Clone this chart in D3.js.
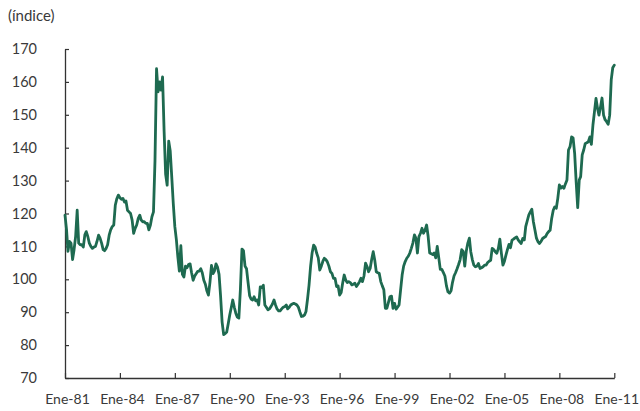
<!DOCTYPE html>
<html>
<head>
<meta charset="utf-8">
<script src="https://cdn.jsdelivr.net/npm/d3@7"></script>
<style>
  html, body { margin: 0; padding: 0; background: #fff; }
  svg { display: block; }
  text { font-family: Lato, "Open Sans", sans-serif; }
</style>
</head>
<body>
<svg id="chart" width="640" height="411"></svg>
<script>
// ---- Data (monthly index, starting January 1981) ----
const startMonth = "1981-01";
const values1981_1990 = [
  119.5,115,108.5,111.5,111,106,109,113,121,111,110.5,110.5,
  109.8,113.5,114.5,113,111,110,109.4,109.8,110,111.5,113.4,112.5,
  111,109,108.7,109.4,110.5,113.4,115,116,116.5,122.5,124.5,125.6,
  124.8,124.3,124.6,123.5,123.8,121,120.5,120,118,114,115.5,116.5,
  118.5,119.5,118,117.5,117.5,117,117,115,116.5,119,120.5,136,
  164,157,160,157.5,161.5,145,132,128.6,142,139,131,123,
  116,112,107,102.5,110.2,101.5,100.7,104,103.5,104.5,104.7,102,
  99.7,101,101.7,102.4,102.5,103.2,102,99.7,98.5,96.5,95.2,99,
  104.2,101.7,102.5,104.7,103.7,101.5,95,87,83.2,83.5,84,86.5,
  89.2,91.5,93.7,91.5,89.7,88.5,88.2,97,109.2,108.7,104,103.2
];
const values1991_2000 = [
  99,95,94,93.7,94.7,93.5,93.7,92.2,97.7,97.5,98.2,92.2,
  91.5,90.7,91,91.7,92.5,93.7,92.2,91,90.4,90.4,91,91.5,
  91.7,92.2,91,91.5,92.2,92.5,92.7,92.5,92.2,91.5,90,88.7,
  88.8,89.2,90.2,94,98.2,104,108,110.4,109.7,107.9,106.5,102.8,
  104,105.5,106.4,106,105.3,104,102.3,101.8,100.3,100.3,97.8,98,
  95.2,96,98.8,101.3,99.8,99,99.3,99,98.3,98.5,98.8,97.8,
  98.5,99.3,100.3,99.3,101,104.9,103.9,102.3,103.3,106,108.4,105.9,
  102.3,102,101.8,99.3,98,96.8,91.2,91.2,93,94.7,94.9,91.2,
  92.7,90.9,91.5,92.2,96.7,101.3,104,105.4,106.4,107,108,109.4,
  111,113.5,112.5,108,113,114,115.5,114,115,116.5,113,108
];
const values2001_2011 = [
  107.8,107.5,108,106.5,110,106.5,103,103,102,101,98,96.2,
  95.8,96.5,99,101,102,103.2,104.5,106,109,108.5,104,108.5,
  111,112.5,108.4,106,104.3,103.8,104,104.8,103.3,103.5,103.8,104.3,
  104.3,105.1,105.5,105.8,109.4,109,108.4,107.9,109.4,112.2,107.9,104.3,
  105.5,107.4,109,110.6,109.6,111.9,112.2,112.6,112.9,112,111.4,110.9,
  112.4,112,116,117.8,119.5,120.5,121.3,117.5,115,112.5,111.4,110.9,
  111.5,112.4,112.7,113,113.9,114.5,114.9,118.5,121,122,121.6,124.6,
  128.7,127.7,128.2,127.7,129,130.2,139.3,140.3,143.3,143,138.3,129.7,
  121.8,130.2,131.2,137.8,139.3,141.3,141.5,141.8,143.3,141,146.9,150.9,
  155,151.9,149.9,152.4,155.1,149.9,148.5,147.9,147.1,149.9,160.6,164.3,
  165.1
];
const tickYears = [1981,1984,1987,1990,1993,1996,1999,2002,2005,2008,2011];
const tickLabels = ["Ene-81","Ene-84","Ene-87","Ene-90","Ene-93","Ene-96","Ene-99","Ene-02","Ene-05","Ene-08","Ene-11"];
const yTicks = [70,80,90,100,110,120,130,140,150,160,170];
const unitLabel = "(índice)";

// ---- Build series ----
const parseMonth = d3.timeParse("%Y-%m");
const startDate = parseMonth(startMonth);
const allValues = values1981_1990.concat(values1991_2000, values2001_2011);
const series = allValues.map((v, i) => ({ date: d3.timeMonth.offset(startDate, i), value: v }));

// ---- Layout ----
const svg = d3.select("#chart");
const plotLeft = 65, plotRight = 614.3, plotTop = 49, plotBottom = 378;

const x = d3.scaleTime()
  .domain([new Date(1981, 0, 1), new Date(2011, 0, 1)])
  .range([plotLeft, plotRight]);
const y = d3.scaleLinear().domain([70, 170]).range([plotBottom, plotTop]);

const axisColor = "#333";
const textColor = "#3a3a3a";

// Y axis
const yAxis = svg.append("g")
  .attr("transform", `translate(${plotLeft},0)`)
  .call(d3.axisLeft(y).tickValues(yTicks).tickSizeInner(-4).tickSizeOuter(0).tickPadding(28));
yAxis.select(".domain").attr("stroke", axisColor).attr("stroke-width", 1.3);
yAxis.selectAll(".tick line").attr("stroke", axisColor).attr("stroke-width", 1.2);
yAxis.selectAll(".tick text").attr("fill", textColor).style("font-size", "14.5px").attr("font-family", null);

// X axis
const xAxis = svg.append("g")
  .attr("transform", `translate(0,${plotBottom})`)
  .call(d3.axisBottom(x)
    .tickValues(tickYears.map(yr => new Date(yr, 0, 1)))
    .tickFormat((d, i) => tickLabels[i])
    .tickSizeInner(-5).tickSizeOuter(0).tickPadding(16));
xAxis.select(".domain").attr("stroke", axisColor).attr("stroke-width", 1.3);
xAxis.selectAll(".tick line").attr("stroke", axisColor).attr("stroke-width", 1.2);
xAxis.selectAll(".tick text").attr("fill", textColor).attr("dx", 2).style("font-size", "14px").attr("font-family", null);

// Unit label
svg.append("text")
  .attr("x", 8).attr("y", 21)
  .attr("fill", textColor)
  .style("font-size", "15px")
  .text(unitLabel);

// Line
const line = d3.line()
  .x(d => x(d.date))
  .y(d => y(d.value));
svg.append("path")
  .datum(series)
  .attr("fill", "none")
  .attr("stroke", "#1e6a50")
  .attr("stroke-width", 2.8)
  .attr("stroke-linejoin", "round")
  .attr("stroke-linecap", "round")
  .attr("d", line);
</script>
</body>
</html>
